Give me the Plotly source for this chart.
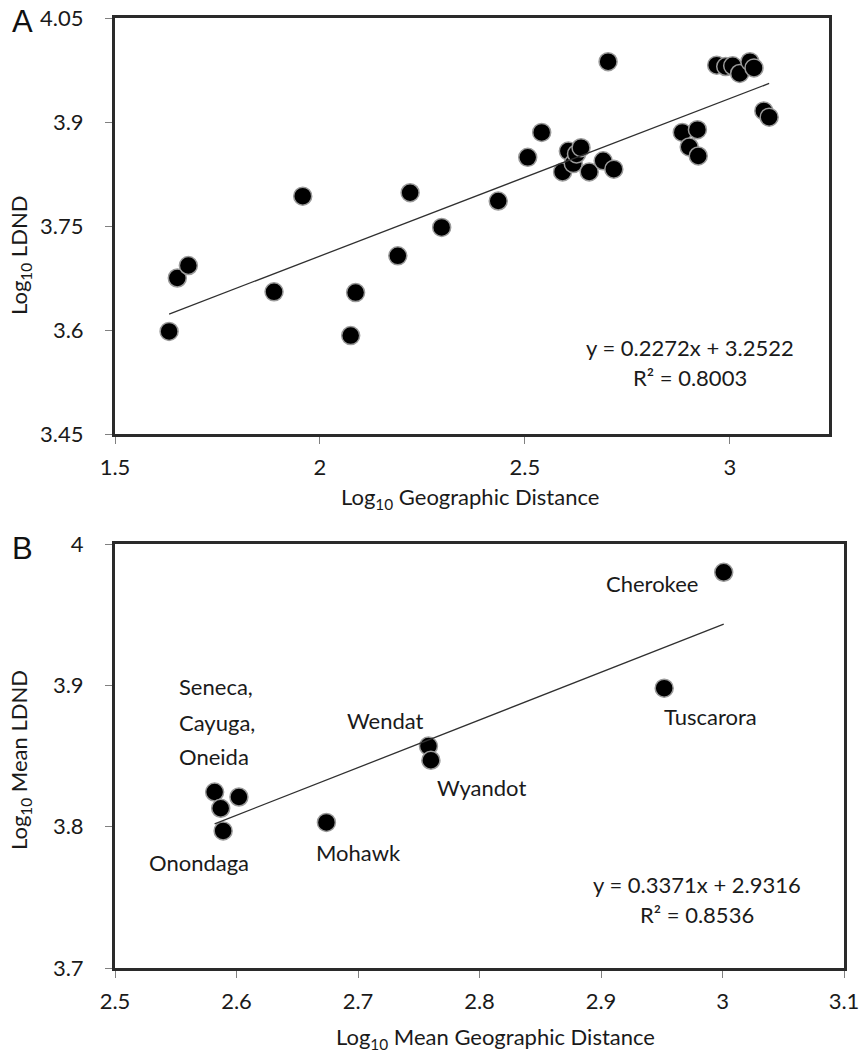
import plotly.graph_objects as go

# ---------------- Data: panel A ----------------
geo_log_a = [1.632, 1.652, 1.679, 1.888, 1.958, 2.075, 2.087, 2.190, 2.220, 2.297,
             2.435, 2.507, 2.541, 2.592, 2.606, 2.618, 2.626, 2.637, 2.657, 2.691,
             2.703, 2.717, 2.884, 2.901, 2.921, 2.923, 2.968, 2.990, 3.007, 3.024,
             3.049, 3.059, 3.083, 3.096]
ldnd_log_a = [3.598, 3.675, 3.693, 3.655, 3.793, 3.592, 3.654, 3.707, 3.798, 3.748,
              3.786, 3.849, 3.885, 3.828, 3.858, 3.840, 3.854, 3.863, 3.828, 3.844,
              3.987, 3.832, 3.885, 3.864, 3.889, 3.851, 3.982, 3.980, 3.981, 3.970,
              3.987, 3.978, 3.916, 3.907]
slope_a, intercept_a, r2_a = 0.2272, 3.2522, 0.8003
trend_x_a = [1.632, 3.096]

# ---------------- Data: panel B ----------------
groups_b = ["Seneca", "Cayuga", "Oneida", "Onondaga", "Mohawk", "Wendat", "Wyandot",
            "Cherokee", "Tuscarora"]
geo_log_b = [2.582, 2.602, 2.587, 2.589, 2.674, 2.758, 2.760, 3.001, 2.952]
ldnd_log_b = [3.8245, 3.821, 3.813, 3.797, 3.803, 3.857, 3.847, 3.980, 3.898]
slope_b, intercept_b, r2_b = 0.3371, 2.9316, 0.8536
trend_x_b = [2.582, 3.001]

# label texts and anchor positions (data coordinates of panel B)
label_texts_b = ["Seneca,", "Cayuga,", "Oneida", "Onondaga", "Mohawk", "Wendat",
                 "Wyandot", "Cherokee", "Tuscarora"]
label_x_b = [2.551, 2.551, 2.551, 2.569, 2.700, 2.723, 2.802, 2.942, 2.990]
label_y_b = [3.899, 3.874, 3.850, 3.775, 3.782, 3.875, 3.828, 3.972, 3.878]
label_anchor_b = ["left", "left", "left", "center", "center", "center", "center",
                  "center", "center"]

ticks_ya = [3.45, 3.6, 3.75, 3.9, 4.05]
ticks_xa = [1.5, 2, 2.5, 3]
ticks_yb = [3.7, 3.8, 3.9, 4]
ticks_xb = [2.5, 2.6, 2.7, 2.8, 2.9, 3, 3.1]

FONT = "Lato"
W, H = 862, 1057

marker = dict(color="black", size=18, line=dict(color="#9a9a9a", width=1.5))

fig = go.Figure()
fig.add_trace(go.Scatter(x=geo_log_a, y=ldnd_log_a, mode="markers", marker=marker,
                         xaxis="x", yaxis="y", showlegend=False))
fig.add_trace(go.Scatter(x=trend_x_a, y=[slope_a * v + intercept_a for v in trend_x_a],
                         mode="lines", line=dict(color="#303030", width=1.3),
                         xaxis="x", yaxis="y", showlegend=False))
fig.add_trace(go.Scatter(x=geo_log_b, y=ldnd_log_b, mode="markers", marker=marker,
                         xaxis="x2", yaxis="y2", showlegend=False, text=groups_b))
fig.add_trace(go.Scatter(x=trend_x_b, y=[slope_b * v + intercept_b for v in trend_x_b],
                         mode="lines", line=dict(color="#303030", width=1.3),
                         xaxis="x2", yaxis="y2", showlegend=False))

def px_x(p):
    return p / W

def px_y(p):
    return 1 - p / H

axis_common = dict(showgrid=False, zeroline=False, showline=True, mirror=True,
                   linecolor="#2a2a2a", linewidth=3, ticks="outside", ticklen=7,
                   tickcolor="#808080", tickwidth=1, automargin=False,
                   ticklabeloverflow="allow",
                   tickfont=dict(family=FONT, size=22, color="#1a1a1a"))

fig.update_layout(
    width=W, height=H, margin=dict(l=0, r=0, t=0, b=0, pad=0, autoexpand=False),
    paper_bgcolor="white", plot_bgcolor="white",
    font=dict(family=FONT, color="#1a1a1a"),
    xaxis=dict(domain=[px_x(115), px_x(829)], range=[1.5, 3.242], tickvals=ticks_xa,
               ticktext=[f"{v:g}" for v in ticks_xa], anchor="y", ticklabelstandoff=5,
               **axis_common),
    yaxis=dict(domain=[px_y(434), px_y(18)], range=[3.45, 4.05], tickvals=ticks_ya,
               ticktext=[f"{v:g}" for v in ticks_ya], anchor="x", ticklabelstandoff=17,
               **axis_common),
    xaxis2=dict(domain=[px_x(115), px_x(844)], range=[2.5, 3.1], tickvals=ticks_xb,
                ticktext=[f"{v:g}" for v in ticks_xb], anchor="y2", ticklabelstandoff=5,
                **axis_common),
    yaxis2=dict(domain=[px_y(968), px_y(544)], range=[3.7, 4.0], tickvals=ticks_yb,
                ticktext=[f"{v:g}" for v in ticks_yb], anchor="x2", ticklabelstandoff=17,
                **axis_common),
)

ann = []
txtfont = dict(family=FONT, size=22, color="#1a1a1a")
def paper_ann(text, x, y, font, angle=0):
    return dict(text=text, x=px_x(x), y=px_y(y), xref="paper", yref="paper",
                xanchor="center", yanchor="middle", textangle=angle,
                showarrow=False, font=font)

# Panel letters
ann.append(paper_ann("A", 22, 22, dict(family="Liberation Sans", size=31, color="#111")))
ann.append(paper_ann("B", 22, 548, dict(family="Liberation Sans", size=31, color="#111")))
# Axis titles
ann.append(paper_ann("Log<sub>10</sub> Geographic Distance", 470, 498, txtfont))
ann.append(paper_ann("Log<sub>10</sub> LDND", 20, 256, txtfont, -90))
ann.append(paper_ann("Log<sub>10</sub> Mean Geographic Distance", 495, 1038, txtfont))
ann.append(paper_ann("Log<sub>10</sub> Mean LDND", 20, 760, txtfont, -90))
# Equations
ann.append(dict(text=f"y = {slope_a}x + {intercept_a}", x=2.902, y=3.575, xref="x", yref="y",
                showarrow=False, font=txtfont))
ann.append(dict(text=f"R² = {r2_a}", x=2.902, y=3.532, xref="x", yref="y",
                showarrow=False, font=txtfont))
ann.append(dict(text=f"y = {slope_b}x + {intercept_b}", x=2.979, y=3.759, xref="x2", yref="y2",
                showarrow=False, font=txtfont))
ann.append(dict(text=f"R² = {r2_b}", x=2.979, y=3.738, xref="x2", yref="y2",
                showarrow=False, font=txtfont))
# Group labels
for t, lx, ly, a in zip(label_texts_b, label_x_b, label_y_b, label_anchor_b):
    ann.append(dict(text=t, x=lx, y=ly, xref="x2", yref="y2", xanchor=a,
                    showarrow=False, font=txtfont))

fig.update_layout(annotations=ann)
fig.write_html("out.html", config={"displayModeBar": False},
               post_script="document.body.style.margin='0';document.body.style.overflow='hidden';")
